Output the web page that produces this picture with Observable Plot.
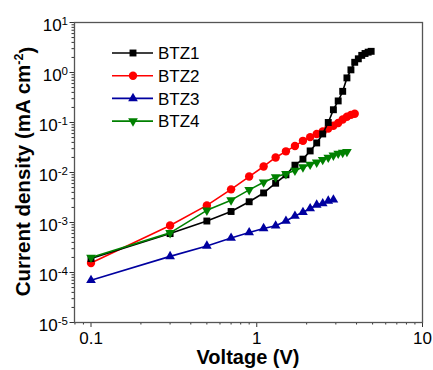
<!DOCTYPE html>
<html><head><meta charset="utf-8">
<script src="https://cdn.jsdelivr.net/npm/d3@7"></script>
<script src="https://cdn.jsdelivr.net/npm/@observablehq/plot@0.6"></script>
<style>
body{margin:0;background:#fff}
#chart{width:433px;height:370px;position:relative}
</style>
</head><body><div id="chart"></div>
<script>
// Voltage (V) sample points
const voltage = [0.1,0.3,0.5,0.7,0.9,1.1,1.3,1.5,1.7,1.9,2.1,2.3,2.5,2.7,2.9,3.1,3.3,3.5,3.7,3.9,4.1,4.3,4.5,4.7,4.9];
// Current density (mA cm^-2)
const btz1 = [1.9e-4,6.0e-4,1.07e-3,1.66e-3,2.6e-3,3.9e-3,6.1e-3,9.0e-3,1.4e-2,1.85e-2,2.7e-2,3.9e-2,5.9e-2,0.10,0.18,0.27,0.42,0.78,1.13,1.6,1.88,2.2,2.4,2.55,2.65];
const btz2 = [1.55e-4,8.7e-4,2.2e-3,4.6e-3,8.3e-3,1.32e-2,2.0e-2,2.65e-2,3.4e-2,4.3e-2,5.1e-2,5.9e-2,6.6e-2,7.6e-2,8.6e-2,0.098,0.115,0.13,0.142,0.15];
const btz3 = [7.0e-5,2.1e-4,3.4e-4,4.9e-4,6.3e-4,7.6e-4,8.6e-4,1.07e-3,1.35e-3,1.6e-3,1.9e-3,2.25e-3,2.4e-3,2.7e-3,2.85e-3];
const btz4 = [2.0e-4,6.2e-4,1.75e-3,2.8e-3,4.5e-3,6.4e-3,8.1e-3,9.4e-3,1.1e-2,1.28e-2,1.45e-2,1.6e-2,1.8e-2,2.0e-2,2.2e-2,2.4e-2,2.5e-2,2.6e-2];

const seriesNames = ["BTZ1","BTZ2","BTZ3","BTZ4"];
const seriesValues = [btz1, btz2, btz3, btz4];
const seriesColors = ["#000000","#ff0000","#0000a0","#008000"];
const seriesSymbols = ["square","circle","triangle","triangle"];
const seriesRotate = [0,0,0,180];
const seriesR = [3.9,4.2,3.6,3.6];
const drawOrder = [1,0,2,3];

const yMajorTicks = [1e-5,1e-4,1e-3,1e-2,1e-1,1e0,1e1];
const xMajorTicks = [0.1,1,10];
const xTickLabels = ["0.1","1","10"];

const yMinorTicks = [];
for (let e = -5; e < 1; e++) for (let m = 2; m <= 9; m++) yMinorTicks.push(m * Math.pow(10, e));
const xMinorTicks = [0.08,0.09];
for (let e = -1; e < 1; e++) for (let m = 2; m <= 9; m++) xMinorTicks.push(m * Math.pow(10, e));

const rows = seriesValues.map((vals, i) => vals.map((j, k) => ({series: seriesNames[i], V: voltage[k], J: j})));

const FONT = "'Liberation Sans', Arial, Helvetica, sans-serif";
const axisColor = "#333";

const seriesMarks = drawOrder.flatMap(i => [
  Plot.line(rows[i], {x: "V", y: "J", stroke: seriesColors[i], strokeWidth: 1.6}),
  Plot.dot(rows[i], {x: "V", y: "J", symbol: seriesSymbols[i], r: seriesR[i], fill: seriesColors[i], stroke: "none", rotate: seriesRotate[i]})
]);

const chart = Plot.plot({
  width: 433,
  height: 370,
  marginLeft: 74,
  marginRight: 11,
  marginTop: 22,
  marginBottom: 48,
  style: {fontFamily: FONT, fontSize: "17px", color: "#000", background: "#fff"},
  x: {type: "log", domain: [0.0795, 10]},
  y: {type: "log", domain: [1e-5, 10]},
  marks: [
    Plot.axisY(yMinorTicks, {tickSize: 2.5, tickFormat: () => "", stroke: axisColor, label: null}),
    Plot.axisY(yMajorTicks, {tickSize: 4.5, tickPadding: 2, tickFormat: d => "10^" + Math.round(Math.log10(d)), stroke: axisColor, label: null}),
    Plot.axisX(xMinorTicks, {tickSize: 2.5, tickFormat: () => "", stroke: axisColor, label: null}),
    Plot.axisX(xMajorTicks, {tickSize: 5, tickPadding: 4, tickFormat: d => xTickLabels[xMajorTicks.indexOf(d)], stroke: axisColor, label: null}),
    ...seriesMarks,
    Plot.frame({stroke: "#555", strokeWidth: 1.3})
  ]
});

document.getElementById("chart").appendChild(chart);

const svg = d3.select(chart);
// superscript exponents on y tick labels
svg.selectAll("text").each(function() {
  const t = d3.select(this);
  const s = t.text();
  if (s.startsWith("10^")) {
    const exp = s.slice(3);
    t.text("10");
    t.append("tspan").attr("dy", "-0.5em").attr("font-size", "11.5px").text(exp);
    t.attr("transform", (t.attr("transform") || "") + " translate(0,3)");
  }
});

// axis titles
svg.append("text")
  .attr("transform", "translate(30,171.5) rotate(-90)")
  .attr("text-anchor", "middle")
  .attr("font-family", FONT).attr("font-weight", "bold").attr("font-size", "20.5px")
  .call(t => {
    t.append("tspan").text("Current density (mA cm");
    t.append("tspan").attr("dy", "-0.55em").attr("font-size", "12.5px").text("-2");
    t.append("tspan").attr("dy", "0.55em").text(")");
  });
svg.append("text")
  .attr("x", 248).attr("y", 364)
  .attr("text-anchor", "middle")
  .attr("font-family", FONT).attr("font-weight", "bold").attr("font-size", "20px")
  .text("Voltage (V)");

// legend
const legend = svg.append("g").attr("font-family", FONT).attr("font-size", "17px").attr("text-anchor", "start");
const sym = {square: d3.symbolSquare, circle: d3.symbolCircle, triangle: d3.symbolTriangle};
seriesNames.forEach((name, i) => {
  const y = 53 + i * 22.7;
  const g = legend.append("g").attr("transform", `translate(0,${y})`);
  g.append("line").attr("x1", 112).attr("x2", 153).attr("stroke", seriesColors[i]).attr("stroke-width", 1.6);
  g.append("path")
    .attr("d", d3.symbol(sym[seriesSymbols[i]], Math.PI * seriesR[i] * seriesR[i])())
    .attr("transform", `translate(133,0) rotate(${seriesRotate[i]})`)
    .attr("fill", seriesColors[i]);
  g.append("text").attr("x", 158).attr("dy", "0.36em").attr("text-anchor", "start").text(name);
});
</script>
</body></html>
